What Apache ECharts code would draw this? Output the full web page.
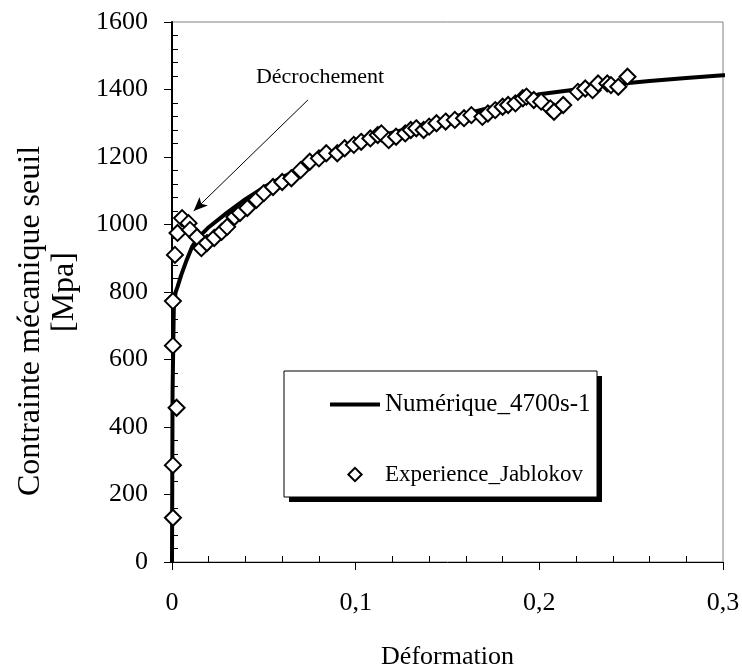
<!DOCTYPE html>
<html>
<head>
<meta charset="utf-8">
<script src="https://cdn.jsdelivr.net/npm/echarts@6/dist/echarts.min.js"></script>
<style>
  html, body { margin: 0; padding: 0; background: #fff; }
  #chart { width: 742px; height: 672px; }
</style>
</head>
<body>
<div id="chart"></div>
<script>
// numerical curve (Numérique_4700s-1)
const numStrain = [0, 0.0003, 0.001, 0.002, 0.003, 0.005, 0.008, 0.011, 0.015, 0.02, 0.03, 0.04, 0.05, 0.06, 0.07, 0.08, 0.09, 0.1, 0.12, 0.14, 0.16, 0.18, 0.2, 0.22, 0.24, 0.26, 0.28, 0.3, 0.31];
const numStress = [0, 500, 760, 800, 815, 850, 895, 935, 965, 992, 1035, 1075, 1110, 1140, 1166, 1196, 1218, 1238, 1272, 1300, 1328, 1355, 1386, 1400, 1415, 1425, 1434, 1442, 1446];

// experimental points (Experience_Jablokov)
const expStrain = [0.0005, 0.0005, 0.0025, 0.0005, 0.0005, 0.0016, 0.003, 0.0055, 0.009, 0.0098, 0.0136, 0.016, 0.019, 0.023, 0.027, 0.030, 0.034, 0.037, 0.041, 0.046, 0.050, 0.055, 0.060, 0.065, 0.070, 0.075, 0.080, 0.084, 0.090, 0.094, 0.099, 0.103, 0.108, 0.112, 0.114, 0.118, 0.122, 0.127, 0.130, 0.133, 0.137, 0.140, 0.144, 0.149, 0.154, 0.159, 0.163, 0.169, 0.172, 0.176, 0.180, 0.183, 0.187, 0.191, 0.193, 0.197, 0.201, 0.206, 0.208, 0.213, 0.221, 0.225, 0.229, 0.232, 0.237, 0.239, 0.243, 0.248];
const expStress = [131, 287, 457, 641, 773, 910, 975, 1019, 1004, 984, 963, 930, 945, 960, 978, 993, 1022, 1034, 1049, 1073, 1093, 1111, 1126, 1137, 1161, 1186, 1196, 1211, 1211, 1226, 1236, 1245, 1255, 1265, 1270, 1250, 1260, 1270, 1280, 1285, 1280, 1290, 1300, 1305, 1310, 1315, 1324, 1319, 1329, 1339, 1349, 1354, 1359, 1374, 1379, 1369, 1364, 1344, 1334, 1354, 1393, 1403, 1398, 1418, 1418, 1413, 1408, 1438];

const xTickLabels = ['0', '0,1', '0,2', '0,3'];
const seriesNames = ['Numérique_4700s-1', 'Experience_Jablokov'];
const noteText = 'Décrochement';
const noteAt = [0.0806, 1437];
const arrowFrom = [0.074, 1369];
const arrowTo = [0.0118, 1040];

const font = 'Liberation Serif';
const chart = echarts.init(document.getElementById('chart'));

chart.setOption({
  animation: false,
  backgroundColor: '#fff',
  textStyle: { fontFamily: font, color: '#000' },
  grid: {
    left: 172, right: 19, top: 22, bottom: 110,
    outerBoundsMode: 'none',
    show: true, borderColor: '#808080', borderWidth: 1
  },
  // legend frame with its hard shadow
  graphic: [
    { type: 'rect', z: 3, shape: { x: 289, y: 376, width: 313, height: 126 }, style: { fill: '#000' } },
    { type: 'rect', z: 3, shape: { x: 284, y: 371, width: 313, height: 126 }, style: { fill: '#fff', stroke: '#000', lineWidth: 1 } }
  ],
  legend: {
    left: 284, top: 371,
    orient: 'vertical',
    data: [
      { name: seriesNames[0], icon: 'path://M0,0 L50,0 L50,4 L0,4 Z' },
      { name: seriesNames[1], icon: 'path://M-1.5,-1.5 M1.5,1.5 M0,-1 L1,0 L0,1 L-1,0 Z' }
    ],
    formatter: name => (name === seriesNames[1] ? '{s|' + name + '}' : name),
    itemWidth: 50, itemHeight: 20, itemGap: 46,
    padding: [21, 7, 19, 46],
    textStyle: {
      fontFamily: font, fontSize: 25, lineHeight: 20, color: '#000',
      rich: { s: { fontFamily: font, fontSize: 23, lineHeight: 20, color: '#000' } }
    },
    z: 5
  },
  xAxis: {
    type: 'value',
    min: 0, max: 0.3, interval: 0.1,
    name: 'Déformation',
    nameLocation: 'middle',
    nameGap: 82,
    nameTextStyle: { fontFamily: font, fontSize: 26, color: '#000' },
    axisLine: { lineStyle: { color: '#000', width: 1 } },
    axisTick: { length: 8, lineStyle: { color: '#000' } },
    minorTick: { show: true, splitNumber: 5, length: -6, lineStyle: { color: '#000' } },
    splitLine: { show: false },
    axisLabel: {
      margin: 28, fontFamily: font, fontSize: 26, color: '#000',
      formatter: v => xTickLabels[Math.round(v * 10)]
    }
  },
  yAxis: {
    type: 'value',
    min: 0, max: 1600, interval: 200,
    name: '{a|Contrainte mécanique seuil}\n{b|[Mpa]}',
    nameLocation: 'middle',
    nameGap: 90,
    nameTextStyle: {
      fontFamily: font, fontSize: 32, color: '#000', lineHeight: 34,
      rich: {
        a: { fontFamily: font, fontSize: 32, color: '#000', lineHeight: 34, padding: [0, 58, 0, 0] },
        b: { fontFamily: font, fontSize: 32, color: '#000', lineHeight: 34 }
      }
    },
    axisLine: { lineStyle: { color: '#000', width: 2 } },
    axisTick: { length: 8, lineStyle: { color: '#000' } },
    minorTick: { show: true, splitNumber: 5, length: -6, lineStyle: { color: '#000' } },
    splitLine: { show: false },
    axisLabel: { margin: 24, fontFamily: font, fontSize: 26, color: '#000', formatter: v => String(v) }
  },
  series: [
    {
      name: seriesNames[0],
      type: 'line',
      data: numStrain.map((x, i) => [x, numStress[i]]),
      showSymbol: false,
      symbol: 'none',
      clip: false,
      lineStyle: { color: '#000', width: 4 },
      itemStyle: { color: '#000' },
      z: 3
    },
    {
      name: seriesNames[1],
      type: 'scatter',
      data: expStrain.map((x, i) => [x, expStress[i]]),
      symbol: 'diamond',
      symbolSize: 16,
      itemStyle: { color: '#fff', borderColor: '#000', borderWidth: 2, opacity: 1 },
      z: 4,
      markLine: {
        silent: true,
        symbol: ['none', 'arrow'],
        symbolSize: [9, 14],
        lineStyle: { color: '#000', width: 1, type: 'solid' },
        label: { show: false },
        data: [[{ coord: arrowFrom }, { coord: arrowTo }]]
      },
      markPoint: {
        silent: true,
        symbol: 'rect',
        symbolSize: 0,
        label: {
          show: true, position: 'inside', formatter: noteText,
          fontFamily: font, fontSize: 22, color: '#000'
        },
        data: [{ coord: noteAt }]
      }
    }
  ]
});
</script>
</body>
</html>
